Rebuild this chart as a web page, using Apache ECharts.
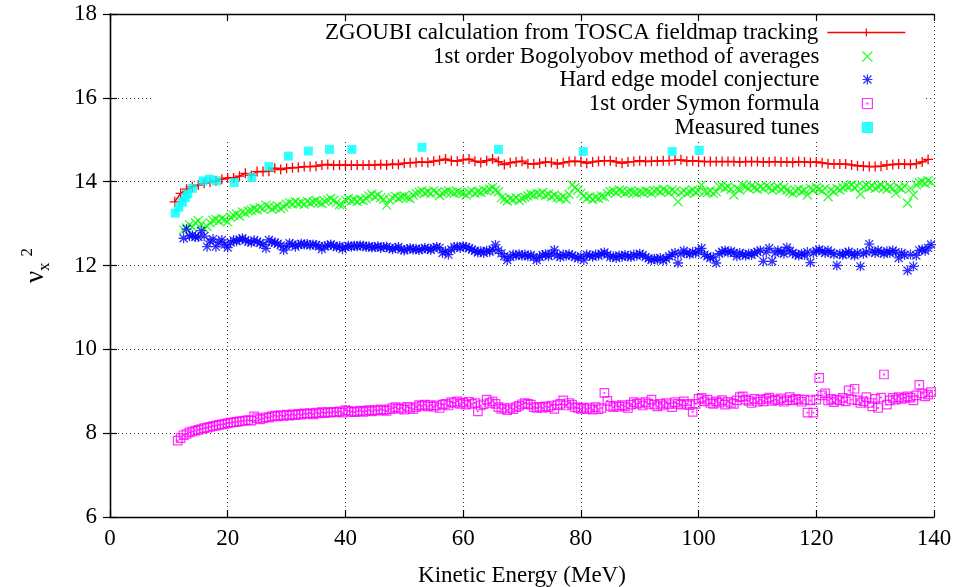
<!DOCTYPE html>
<html>
<head>
<meta charset="utf-8">
<title>Horizontal tune vs kinetic energy</title>
<script src="https://cdn.jsdelivr.net/npm/echarts/dist/echarts.min.js"></script>
<style>
  html, body { margin: 0; padding: 0; background: #fff; }
  #chart { width: 957px; height: 587px; }
</style>
</head>
<body>
<div id="chart"></div>
<script>
// ---- energy sampling of the calculations (MeV) ----
const ZGOUBI_E_START = 11, ZGOUBI_E_STEP = 1;
const FINE_E_STEP = 0.5;
const SYMON_E_START = 11.5;
const MODEL_E_START = 12.5;   // Bogolyobov and hard-edge start here

// ZGOUBI tracking through the TOSCA field map (nu_x^2)
const zgoubi = [
  13.52,13.72,13.82,13.88,13.92,13.96,13.99,14.02,14.06,14.09,
  14.09,14.13,14.20,14.15,14.24,14.24,14.25,14.32,14.29,14.32,
  14.33,14.34,14.36,14.36,14.37,14.40,14.41,14.39,14.40,14.40,
  14.39,14.40,14.39,14.40,14.40,14.41,14.40,14.42,14.41,14.44,
  14.45,14.46,14.47,14.46,14.49,14.51,14.54,14.50,14.49,14.52,
  14.54,14.49,14.46,14.50,14.54,14.48,14.41,14.45,14.47,14.49,
  14.43,14.42,14.44,14.47,14.46,14.42,14.45,14.48,14.49,14.48,
  14.44,14.47,14.49,14.50,14.50,14.47,14.44,14.47,14.48,14.50,
  14.48,14.49,14.49,14.50,14.50,14.51,14.52,14.49,14.50,14.49,
  14.48,14.48,14.48,14.48,14.48,14.48,14.47,14.48,14.48,14.48,
  14.47,14.47,14.48,14.47,14.47,14.46,14.48,14.47,14.46,14.47,
  14.45,14.43,14.42,14.42,14.42,14.40,14.38,14.37,14.36,14.36,
  14.37,14.40,14.41,14.42,14.42,14.41,14.43,14.47,14.53
];

// 1st order Bogolyobov method of averages
const bogolyobov = [
  12.85,12.90,12.97,12.92,13.02,13.07,12.98,12.88,12.93,13.02,
  13.08,13.10,13.06,13.12,13.09,13.04,13.15,13.20,13.23,13.18,
  13.28,13.25,13.30,13.32,13.36,13.33,13.38,13.35,13.44,13.40,
  13.34,13.38,13.42,13.36,13.40,13.46,13.50,13.47,13.52,13.48,
  13.50,13.46,13.53,13.49,13.52,13.55,13.50,13.48,13.53,13.56,
  13.60,13.55,13.50,13.45,13.44,13.56,13.60,13.54,13.57,13.53,
  13.58,13.55,13.60,13.66,13.70,13.64,13.68,13.62,13.58,13.44,
  13.56,13.62,13.65,13.60,13.64,13.66,13.62,13.60,13.68,13.72,
  13.75,13.78,13.73,13.76,13.72,13.78,13.74,13.67,13.72,13.76,
  13.78,13.75,13.72,13.76,13.74,13.72,13.68,13.74,13.78,13.72,
  13.76,13.74,13.80,13.78,13.82,13.86,13.80,13.76,13.62,13.58,
  13.54,13.60,13.57,13.62,13.55,13.60,13.63,13.66,13.70,13.68,
  13.72,13.70,13.74,13.67,13.70,13.64,13.68,13.62,13.60,13.64,
  13.58,13.70,13.92,13.86,13.80,13.72,13.66,13.60,13.64,13.58,
  13.62,13.60,13.66,13.64,13.72,13.76,13.78,13.74,13.80,13.77,
  13.72,13.76,13.78,13.74,13.72,13.76,13.74,13.78,13.76,13.72,
  13.78,13.80,13.76,13.82,13.78,13.74,13.80,13.76,13.52,13.74,
  13.78,13.72,13.76,13.80,13.74,13.78,13.92,13.76,13.74,13.78,
  13.72,13.76,13.88,13.90,13.85,13.88,13.82,13.68,13.84,13.80,
  13.92,13.88,13.84,13.90,13.86,13.82,13.88,13.84,13.90,13.86,
  13.80,13.84,13.88,13.82,13.86,13.80,13.76,13.72,13.78,13.82,
  13.76,13.80,13.68,13.84,13.80,13.86,13.82,13.78,13.84,13.64,
  13.80,13.76,13.84,13.80,13.86,13.90,13.88,13.92,13.86,13.90,
  13.70,13.88,13.92,13.86,13.90,13.84,13.88,13.92,13.86,13.82,
  13.88,13.84,13.72,13.86,13.82,13.90,13.49,13.84,13.68,13.92,
  13.98,14.00,13.96,14.02,13.99
];

// Hard edge model conjecture
const hardEdge = [
  12.65,12.87,12.70,12.72,12.68,12.68,12.83,12.70,12.45,12.58,
  12.63,12.45,12.55,12.61,12.50,12.43,12.55,12.60,12.58,12.62,
  12.65,12.60,12.57,12.55,12.60,12.57,12.54,12.50,12.41,12.61,
  12.56,12.55,12.52,12.48,12.37,12.45,12.53,12.50,12.45,12.49,
  12.52,12.50,12.51,12.48,12.50,12.49,12.46,12.39,12.46,12.48,
  12.50,12.47,12.44,12.46,12.39,12.44,12.47,12.45,12.47,12.46,
  12.48,12.47,12.44,12.46,12.43,12.44,12.46,12.42,12.44,12.45,
  12.41,12.39,12.42,12.44,12.38,12.36,12.39,12.41,12.38,12.40,
  12.37,12.39,12.42,12.40,12.37,12.42,12.44,12.42,12.30,12.34,
  12.26,12.38,12.44,12.45,12.42,12.46,12.44,12.41,12.38,12.35,
  12.31,12.34,12.30,12.35,12.33,12.38,12.49,12.36,12.29,12.22,
  12.13,12.20,12.26,12.24,12.27,12.23,12.26,12.22,12.25,12.20,
  12.13,12.20,12.25,12.27,12.22,12.28,12.37,12.24,12.20,12.26,
  12.23,12.27,12.24,12.20,12.17,12.22,12.13,12.26,12.24,12.21,
  12.26,12.23,12.28,12.31,12.26,12.20,12.22,12.18,12.24,12.21,
  12.25,12.22,12.20,12.26,12.23,12.28,12.25,12.20,12.17,12.13,
  12.16,12.14,12.18,12.12,12.16,12.22,12.26,12.30,12.06,12.28,
  12.35,12.30,12.27,12.32,12.29,12.35,12.41,12.26,12.22,12.18,
  12.20,12.06,12.28,12.33,12.36,12.31,12.34,12.30,12.22,12.30,
  12.26,12.24,12.28,12.25,12.30,12.33,12.36,12.10,12.32,12.41,
  12.10,12.30,12.36,12.33,12.28,12.43,12.35,12.30,12.26,12.24,
  12.28,12.25,12.32,12.07,12.30,12.35,12.38,12.34,12.30,12.36,
  12.31,12.27,12.00,12.28,12.25,12.30,12.33,12.27,12.24,12.30,
  11.98,12.28,12.32,12.51,12.34,12.30,12.36,12.32,12.28,12.34,
  12.30,12.36,12.32,12.18,12.30,12.25,11.88,12.26,11.98,12.24,
  12.36,12.38,12.35,12.42,12.50
];

// 1st order Symon formula
const symon = [
  7.82,7.88,7.95,7.98,8.02,8.04,8.06,8.08,8.10,8.12,
  8.13,8.15,8.17,8.18,8.20,8.21,8.22,8.24,8.25,8.26,
  8.27,8.28,8.29,8.30,8.31,8.30,8.40,8.36,8.33,8.35,
  8.38,8.37,8.40,8.42,8.40,8.43,8.41,8.44,8.42,8.45,
  8.43,8.46,8.44,8.47,8.46,8.48,8.45,8.49,8.47,8.50,
  8.48,8.50,8.49,8.51,8.50,8.52,8.49,8.55,8.53,8.51,
  8.50,8.52,8.54,8.51,8.53,8.55,8.52,8.55,8.54,8.57,
  8.55,8.53,8.57,8.60,8.62,8.58,8.60,8.56,8.63,8.60,
  8.57,8.62,8.67,8.65,8.68,8.64,8.67,8.63,8.66,8.60,
  8.68,8.70,8.66,8.74,8.72,8.76,8.70,8.73,8.68,8.75,
  8.70,8.72,8.52,8.66,8.69,8.80,8.72,8.76,8.70,8.62,
  8.58,8.60,8.55,8.60,8.57,8.62,8.65,8.69,8.72,8.70,
  8.68,8.62,8.60,8.63,8.60,8.64,8.62,8.66,8.58,8.67,
  8.70,8.78,8.66,8.72,8.68,8.62,8.60,8.58,8.61,8.57,
  8.60,8.56,8.62,8.57,8.60,8.96,8.77,8.65,8.62,8.66,
  8.63,8.67,8.64,8.60,8.68,8.74,8.70,8.72,8.66,8.74,
  8.70,8.80,8.68,8.64,8.70,8.66,8.72,8.69,8.62,8.74,
  8.70,8.68,8.76,8.70,8.67,8.51,8.70,8.82,8.84,8.76,
  8.80,8.72,8.70,8.76,8.73,8.79,8.68,8.75,8.72,8.70,
  8.78,8.86,8.88,8.80,8.77,8.72,8.82,8.75,8.80,8.76,
  8.82,8.85,8.77,8.80,8.78,8.83,8.75,8.79,8.86,8.78,
  8.82,8.80,8.75,8.80,8.49,8.78,8.49,8.80,9.32,8.90,
  8.95,8.78,8.82,8.74,8.80,8.78,8.84,8.76,9.02,8.80,
  9.06,8.78,8.72,8.76,8.86,8.72,8.64,8.82,8.60,8.85,
  9.40,8.68,8.78,8.84,8.80,8.86,8.82,8.84,8.88,8.85,
  8.78,8.90,9.15,8.95,8.88,8.92,8.98
];

// Measured tunes
const measuredEnergy = [11.1,11.7,12.3,12.8,13.2,14.0,15.8,16.9,18.1,21.1,24.1,27.0,30.3,33.7,37.3,41.1,53.0,66.0,80.4,95.5,100.1];
const measuredTune   = [13.25,13.39,13.51,13.62,13.71,13.84,14.02,14.06,14.02,13.98,14.10,14.36,14.61,14.73,14.77,14.77,14.82,14.77,14.72,14.72,14.75];

const seriesNames = [
  'ZGOUBI calculation from TOSCA fieldmap tracking',
  '1st order Bogolyobov method of averages',
  'Hard edge model conjecture',
  '1st order Symon formula',
  'Measured tunes'
];
const xTicks = { min: 0, max: 140, step: 20 };
const yTicks = { min: 6, max: 18, step: 2 };

// ---- helpers ----
function onGrid(values, start, step) {
  return values.map((v, i) => [start + i * step, v]);
}
function pairs(xs, ys) { return xs.map((x, i) => [x, ys[i]]); }

// gnuplot-like point shapes
const SYM_PLUS  = 'path://M0,5L10,5M5,0L5,10';
const SYM_CROSS = 'path://M0,0L10,10M0,10L10,0';
const SYM_STAR  = 'path://M0,5L10,5M5,0L5,10M1,1L9,9M1,9L9,1';
const SYM_BOXDOT = 'path://M0,0L10,0L10,10L0,10ZM4.6,4.6L5.4,4.6L5.4,5.4L4.6,5.4Z';
const SYM_BOX   = 'path://M0,0L10,0L10,10L0,10Z';

const FONT = 'Liberation Serif';
const TXT = 23;

const chart = echarts.init(document.getElementById('chart'), null, { renderer: 'canvas' });

const gridLine = { show: true, lineStyle: { color: '#333', width: 1, type: [1, 3] } };
const frameLine = { show: true, lineStyle: { color: '#000', width: 1.3 } };
const inTick = { show: true, inside: true, length: 7, lineStyle: { color: '#000', width: 1.2 } };

// legend rows: right-justified text, key to the right.
// The line key spans the full item width; point keys only their own box.
const legendRowTop = [21, 45, 68, 92, 116];
const legendRight  = [51, 84, 84, 84, 84];
const legends = seriesNames.map((n, i) => ({
  data: [n],
  orient: 'vertical',
  right: legendRight[i],
  top: legendRowTop[i],
  align: 'right',
  padding: 0,
  itemWidth: 78,
  itemHeight: 10,
  symbolKeepAspect: true,
  selectedMode: false,
  itemStyle: { borderWidth: 1.2 },
  lineStyle: { width: 1.3 },
  textStyle: { fontFamily: FONT, fontSize: TXT, color: '#000', padding: [0, 4, 0, 0] }
}));

const option = {
  animation: false,
  backgroundColor: '#fff',
  grid: { left: 110, right: 23, top: 14, bottom: 70, containLabel: false, outerBoundsMode: 'none' },
  legend: legends,
  graphic: [{
    // opaque key box: hides the grid behind the legend
    type: 'rect', z: 1,
    shape: { x: 152, y: 22, width: 773, height: 118 },
    style: { fill: '#fff' }
  }],
  xAxis: [{
    type: 'value', position: 'bottom',
    min: xTicks.min, max: xTicks.max, interval: xTicks.step,
    axisLine: frameLine, axisTick: inTick, splitLine: gridLine,
    axisLabel: { fontFamily: FONT, fontSize: TXT, color: '#000', margin: 10 },
    name: 'Kinetic Energy (MeV)', nameLocation: 'middle', nameGap: 47,
    nameTextStyle: { fontFamily: FONT, fontSize: TXT, color: '#000' }
  }, {
    type: 'value', position: 'top',
    min: xTicks.min, max: xTicks.max, interval: xTicks.step,
    axisLine: frameLine, axisTick: inTick, splitLine: { show: false },
    axisLabel: { show: false }
  }],
  yAxis: [{
    type: 'value', position: 'left',
    min: yTicks.min, max: yTicks.max, interval: yTicks.step,
    axisLine: frameLine, axisTick: inTick, splitLine: gridLine,
    axisLabel: { fontFamily: FONT, fontSize: TXT, color: '#000', margin: 13 },
    name: '{nu|ν}{sub|x}{sup|2}', nameLocation: 'middle', nameGap: 55, nameRotate: 90,
    nameTextStyle: {
      fontFamily: FONT, color: '#000', fontSize: TXT, lineHeight: 38,
      rich: {
        nu:  { fontFamily: FONT, fontSize: 27, color: '#000', verticalAlign: 'middle' },
        sub: { fontFamily: FONT, fontSize: 17, color: '#000', verticalAlign: 'bottom', padding: [0, 0, 2, 0] },
        sup: { fontFamily: FONT, fontSize: 17, color: '#000', verticalAlign: 'top', padding: [2, 0, 0, 6] }
      }
    }
  }, {
    type: 'value', position: 'right',
    min: yTicks.min, max: yTicks.max, interval: yTicks.step,
    axisLine: frameLine, axisTick: inTick, splitLine: { show: false },
    axisLabel: { show: false }
  }],
  series: [{
    name: seriesNames[0], type: 'line',
    data: onGrid(zgoubi, ZGOUBI_E_START, ZGOUBI_E_STEP),
    symbol: SYM_PLUS, symbolSize: 10, showAllSymbol: true,
    lineStyle: { color: '#ff0000', width: 1.5 },
    itemStyle: { color: 'transparent', borderColor: '#ff0000', borderWidth: 1.3 },
    z: 3
  }, {
    name: seriesNames[1], type: 'scatter',
    data: onGrid(bogolyobov, MODEL_E_START, FINE_E_STEP),
    symbol: SYM_CROSS, symbolSize: 9,
    itemStyle: { color: 'transparent', borderColor: '#00ff00', borderWidth: 1.3 },
    z: 3
  }, {
    name: seriesNames[2], type: 'scatter',
    data: onGrid(hardEdge, MODEL_E_START, FINE_E_STEP),
    symbol: SYM_STAR, symbolSize: 10,
    itemStyle: { color: 'transparent', borderColor: '#0000ff', borderWidth: 1.3 },
    z: 3
  }, {
    name: seriesNames[3], type: 'scatter',
    data: onGrid(symon, SYMON_E_START, FINE_E_STEP),
    symbol: SYM_BOXDOT, symbolSize: 8.5,
    itemStyle: { color: 'transparent', borderColor: '#ff00ff', borderWidth: 1.2 },
    z: 3
  }, {
    name: seriesNames[4], type: 'scatter',
    data: pairs(measuredEnergy, measuredTune),
    symbol: SYM_BOX, symbolSize: 9,
    itemStyle: { color: '#00ffff', borderColor: '#00ffff', borderWidth: 0 },
    z: 4
  }]
};

chart.setOption(option);
</script>
</body>
</html>
